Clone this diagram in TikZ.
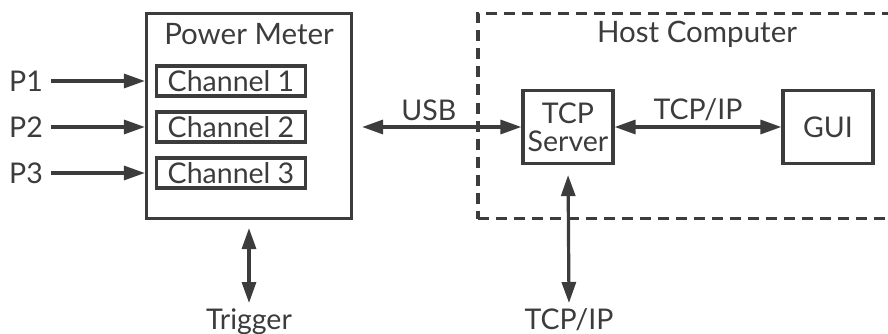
\documentclass[tikz,border=0pt]{standalone}
\usepackage{fontspec}
\setmainfont{Lato}
\usetikzlibrary{arrows.meta}
\definecolor{ink}{HTML}{3C3C3C}
\tikzset{
  box/.style={draw, rectangle, inner sep=0pt},
  hostbox/.style={draw, rectangle, dash pattern=on 11pt off 7pt},
  title/.style={font=\fontsize{29.5}{31}\selectfont},
  tip/.style={-{Triangle[length=21pt,width=14pt]}},
  link/.style={{Triangle[length=21pt,width=14pt]}-{Triangle[length=21pt,width=14pt]}}
}
\begin{document}
\begin{tikzpicture}[x=1pt,y=-1pt,line width=3.2pt,ink,
    font=\fontsize{28.5}{28}\selectfont]
  \useasboundingbox (0,0) rectangle (888,334);
  \clip (0,0) rectangle (888,334);
  % power meter
  \node[box, minimum width=205, minimum height=205] (meter) at (249,116) {};
  \node[title] (metertitle) at (249,34) {Power Meter};
  \node[box, minimum width=149, minimum height=30] (ch1) at (231,81) {Channel 1};
  \node[box, minimum width=149, minimum height=30] (ch2) at (231,127) {Channel 2};
  \node[box, minimum width=149, minimum height=30] (ch3) at (231,173) {Channel 3};
  \node (p1) at (26,81) {P1};
  \node (p2) at (26,127) {P2};
  \node (p3) at (26,173) {P3};
  \draw[tip, shorten <=3pt] (p1) -- (p1 -| meter.west);
  \draw[tip, shorten <=3pt] (p2) -- (p2 -| meter.west);
  \draw[tip, shorten <=3pt] (p3) -- (p3 -| meter.west);
  \node[anchor=north, inner sep=4pt] (trigger) at (249,303) {Trigger};
  \draw[link, shorten <=8pt] (meter.south) -- (trigger.north);
  % host computer
  \node[hostbox, minimum width=438, minimum height=205] (host) at (697,116) {};
  \node[title] (hosttitle) at (697,34) {Host Computer};
  \node[box, minimum width=90, minimum height=73, align=center] (server) at (568,127) {TCP\\Server};
  \node[box, minimum width=90, minimum height=73] (gui) at (828,127) {GUI};
  \draw[link] (server) -- node [above, yshift=1pt] {TCP/IP} (gui);
  \draw[link, shorten <=9pt] (ch2 -| meter.east) -- node [above, pos=0.45, yshift=1pt] {USB} (server.west);
  \node[anchor=north, inner sep=4pt] (tcpout) at (569,303) {TCP/IP};
  \draw[link, shorten <=10pt] (server.south) -- (tcpout.north);
\end{tikzpicture}
\end{document}
